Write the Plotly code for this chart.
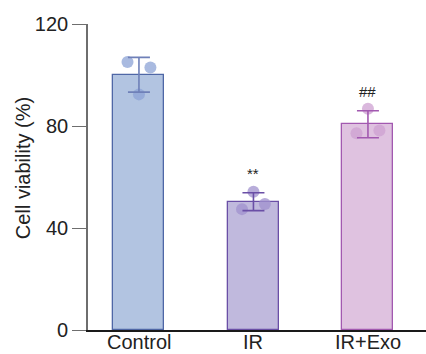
import plotly.graph_objects as go

# Group labels and summary statistics (mean ± SD, n = 3)
groups = ["Control", "IR", "IR+Exo"]
means = [100.1, 50.3, 80.7]
sds = [6.8, 3.5, 5.3]

# Individual replicate values and their horizontal jitter within each bar
replicates = [
    [105.1, 102.9, 92.4],
    [54.2, 47.4, 49.4],
    [86.8, 77.2, 78.2],
]
jitter = [
    [-0.10, 0.10, 0.0],
    [0.0, -0.10, 0.10],
    [0.0, -0.10, 0.10],
]

# Significance marks above the bars
sig_marks = ["", "**", "##"]

fill_colors = ["#b2c4e1", "#c0b9dd", "#dfc2e0"]
edge_colors = ["#4f67a6", "#6a4fa6", "#a259b0"]
dot_colors = ["rgba(140,163,214,0.75)", "rgba(160,146,206,0.75)", "rgba(206,160,210,0.75)"]
err_colors = ["#6f80b8", "#6a4fa6", "#a259b0"]

FONT = "Liberation Sans Narrow, Arial Narrow, Liberation Sans, Arial, sans-serif"

fig = go.Figure()

for i, g in enumerate(groups):
    fig.add_trace(go.Bar(
        x=[i], y=[means[i]], width=0.445,
        marker=dict(color=fill_colors[i], line=dict(color=edge_colors[i], width=1.3)),
        showlegend=False, hoverinfo="skip",
    ))

for i, g in enumerate(groups):
    fig.add_trace(go.Scatter(
        x=[i + j for j in jitter[i]], y=replicates[i], mode="markers",
        marker=dict(size=12, color=dot_colors[i], line=dict(width=0)),
        showlegend=False, hoverinfo="skip",
    ))

for i, g in enumerate(groups):
    fig.add_trace(go.Scatter(
        x=[i], y=[means[i]], mode="markers",
        marker=dict(size=1, color="rgba(0,0,0,0)"),
        error_y=dict(type="data", array=[sds[i]], visible=True,
                     color=err_colors[i], thickness=1.6, width=11),
        showlegend=False, hoverinfo="skip",
    ))

for i, mark in enumerate(sig_marks):
    if mark:
        fig.add_annotation(
            x=i, y=means[i] + sds[i], text=mark, showarrow=False,
            yanchor="bottom", yshift=9,
            font=dict(family=FONT, size=15, color="#222222"),
        )

# Category labels sit tight under the baseline
for i, g in enumerate(groups):
    fig.add_annotation(
        x=i, xref="x", y=0, yref="paper", text=g, showarrow=False,
        yanchor="top", yshift=0, borderpad=0,
        font=dict(family=FONT, size=20, color="#222222"),
    )

fig.add_annotation(
    text="Cell viability (%)", textangle=-90, showarrow=False,
    xref="paper", yref="paper", x=0, y=0.529, xanchor="center", yanchor="middle",
    xshift=-65, font=dict(family=FONT, size=20, color="#222222"),
)

fig.update_layout(
    width=426, height=354,
    margin=dict(l=88, r=0, t=24, b=24),
    plot_bgcolor="white", paper_bgcolor="white",
    bargap=0, barmode="overlay",
    font=dict(family=FONT, color="#222222"),
)

fig.update_xaxes(
    range=[-0.445, 2.507], tickvals=[0, 1, 2], showticklabels=False, automargin=False,
    showgrid=False, zeroline=False, showline=True, linecolor="#1a1a1a", linewidth=2.2,
    ticks="",
)
fig.update_yaxes(
    range=[0, 120], tickvals=[0, 40, 80, 120], automargin=False,
    showgrid=False, zeroline=False, showline=True, linecolor="#6e6e6e", linewidth=1.6,
    ticks="outside", ticklen=14, tickcolor="#6e6e6e", tickwidth=1.3,
    tickfont=dict(family=FONT, size=20, color="#222222"),
)

fig.write_html("out.html")
